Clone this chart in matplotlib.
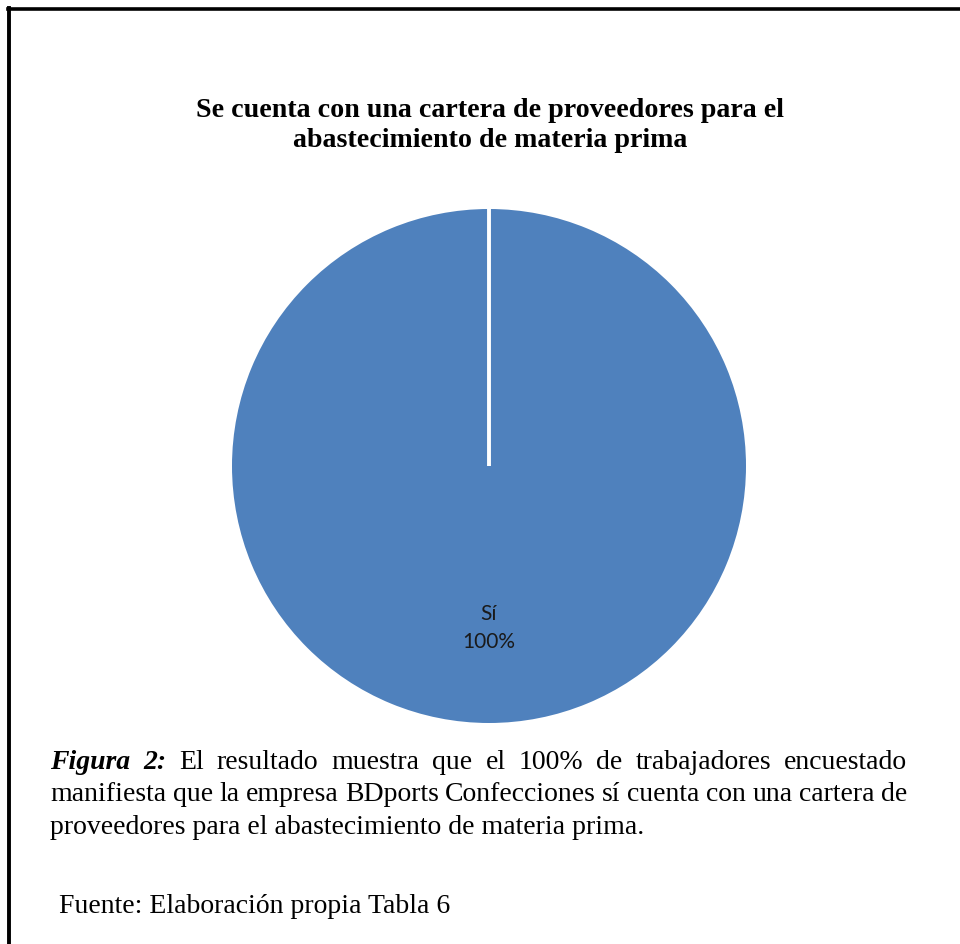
import matplotlib
matplotlib.use("Agg")
import matplotlib.pyplot as plt
from matplotlib.lines import Line2D

# datos
categorias = ["Sí", "No"]
porcentajes = [100, 0]

titulo = "Se cuenta con una cartera de proveedores para el\nabastecimiento de materia prima"
pie_fig_1 = [("Figura", "bi"), ("2:", "bi"), ("El", "r"), ("resultado", "r"), ("muestra", "r"),
             ("que", "r"), ("el", "r"), ("100%", "r"), ("de", "r"), ("trabajadores", "r"),
             ("encuestado", "r")]
pie_fig_2 = "manifiesta que la empresa BDports Confecciones sí cuenta con una cartera de"
pie_fig_3 = "proveedores para el abastecimiento de materia prima."
fuente = "Fuente: Elaboración propia Tabla 6"

W, H = 960, 944
fig = plt.figure(figsize=(W / 100, H / 100), dpi=100)
fig.patch.set_facecolor("white")


def fx(px):
    return px / W


def fy(py):
    return 1 - py / H


# marco (solo izquierda y arriba)
fig.add_artist(Line2D([fx(9.3), fx(9.3)], [0, fy(7.5)], color="black", lw=2.8))
fig.add_artist(Line2D([fx(7.5), 1], [fy(9), fy(9)], color="black", lw=2.6))

# titulo (va baseline -> ultima linea)
fig.text(fx(490), fy(147), titulo, ha="center", va="baseline", family="Liberation Serif",
         weight="bold", fontsize=20.2, linespacing=1.24)

# grafico de pie
ax = fig.add_axes([fx(232), fy(723), 514 / W, 514 / H])
azul = "#4F81BD"
wedges, texts, autotexts = ax.pie(
    porcentajes, colors=[azul, azul], startangle=90, counterclock=False,
    autopct=lambda p: "", pctdistance=0.63,
    wedgeprops=dict(edgecolor="white", linewidth=2.8),
)
wedges[0].set_edgecolor("none")
for t, c, v in zip(autotexts, categorias, porcentajes):
    t.set_text(f"{c}\n{v}%" if v else "")
    t.set_family("Lato")
    t.set_fontsize(15)
    t.set_color("#1a1a1a")
    t.set_linespacing(1.45)
ax.set_xlim(-1, 1)
ax.set_ylim(-1, 1)
ax.set_aspect("auto")
ax.axis("off")

# texto del pie de figura
serif = dict(family="Liberation Serif", fontsize=20)
renderer = fig.canvas.get_renderer()


def estilo(s):
    if s == "bi":
        return dict(serif, weight="bold", style="italic")
    return dict(serif)


def linea_justificada(tramos, y, x0, x1):
    objs = [fig.text(0, fy(y), w, va="baseline", **estilo(s)) for w, s in tramos]
    anchos = [o.get_window_extent(renderer).width for o in objs]
    hueco = (x1 - x0 - sum(anchos)) / (len(objs) - 1)
    x = x0
    for o, a in zip(objs, anchos):
        o.set_x(fx(x))
        x += a + hueco


linea_justificada(pie_fig_1, 769, 50, 907)
linea_justificada([(w, "r") for w in pie_fig_2.split()], 801, 50, 907)
fig.text(fx(50), fy(834), pie_fig_3, va="baseline", **serif)
fig.text(fx(59), fy(913), fuente, va="baseline", **serif)

fig.savefig("out.png", dpi=100, facecolor="white")
